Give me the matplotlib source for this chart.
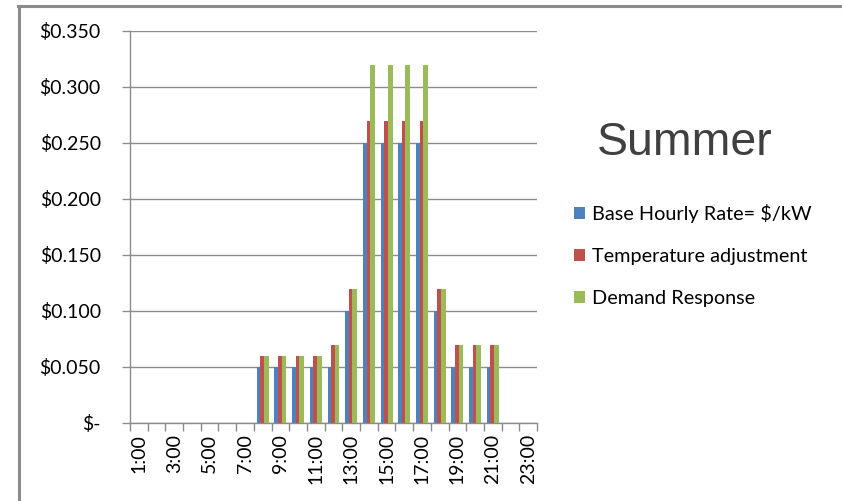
import numpy as np
import matplotlib.pyplot as plt
from matplotlib.lines import Line2D

horas = [f"{h}:00" for h in range(1, 24)]
# valores por hora (1:00 .. 23:00)
base = [0, 0, 0, 0, 0, 0, 0, 0.05, 0.05, 0.05, 0.05, 0.05, 0.10, 0.25,
        0.25, 0.25, 0.25, 0.10, 0.05, 0.05, 0.05, 0, 0]
temperatura = [0, 0, 0, 0, 0, 0, 0, 0.06, 0.06, 0.06, 0.06, 0.07, 0.12, 0.27,
               0.27, 0.27, 0.27, 0.12, 0.07, 0.07, 0.07, 0, 0]
demanda = [0, 0, 0, 0, 0, 0, 0, 0.06, 0.06, 0.06, 0.06, 0.07, 0.12, 0.32,
           0.32, 0.32, 0.32, 0.12, 0.07, 0.07, 0.07, 0, 0]
series = ["Base Hourly Rate= $/kW", "Temperature adjustment", "Demand Response"]
colores = ["#4F81BD", "#C0504D", "#9BBB59"]
ticks_y = [0, 0.05, 0.10, 0.15, 0.20, 0.25, 0.30, 0.35]
etiquetas_y = ["$-", "$0.050", "$0.100", "$0.150", "$0.200", "$0.250", "$0.300", "$0.350"]

plt.rcParams['font.family'] = ['Lato', 'DejaVu Sans']
gris = "#8C8C8C"

fig = plt.figure(figsize=(8.42, 5.01), dpi=100)
ax = fig.add_axes([130/842, 78/501, 407/842, 392/501])

x = np.arange(len(horas))
ancho = 0.27
for i, (vals, c) in enumerate(zip([base, temperatura, demanda], colores)):
    ax.bar(x + (i - 1) * 0.2, vals, ancho, color=c, label=series[i], zorder=2 + i)

ax.set_xlim(-0.5, len(horas) - 0.5)
ax.set_ylim(0, 0.35)
ax.set_yticks(ticks_y)
ax.set_yticklabels(etiquetas_y)
ax.grid(axis='y', color=gris, linewidth=1, zorder=0)

# etiquetas x cada dos horas, marcas en los limites de categoria
ax.set_xticks(x[::2])
ax.set_xticklabels(horas[::2], rotation=90)
ax.set_xticks(np.arange(-0.5, len(horas)), minor=True)
ax.tick_params(axis='x', which='major', length=0, pad=8, labelsize=14, colors='black')
ax.tick_params(axis='x', which='minor', length=6, color=gris, width=1)
ax.tick_params(axis='y', length=6, color=gris, width=1, pad=15, labelsize=14)

for s in ['top', 'right']:
    ax.spines[s].set_visible(False)
for s in ['left', 'bottom']:
    ax.spines[s].set_color(gris)
    ax.spines[s].set_linewidth(1)

fig.text(597/842, 1 - 143/501, "Summer", fontsize=33.5, color="#404040",
         family=['Liberation Sans', 'DejaVu Sans'], va='center', ha='left')

leg = fig.legend(loc='upper left', bbox_to_anchor=(556/842, 1 - 186/501), frameon=False,
                 fontsize=14.3, handlelength=0.55, handleheight=0.55, handletextpad=0.35,
                 labelspacing=1.27)

# borde del grafico
fig.add_artist(Line2D([18/842, 1], [1 - 5.5/501, 1 - 5.5/501], color=gris, linewidth=2.2))
fig.add_artist(Line2D([18.5/842, 18.5/842], [0, 1 - 5.5/501], color=gris, linewidth=2.2))

plt.savefig("out.png", dpi=100)
